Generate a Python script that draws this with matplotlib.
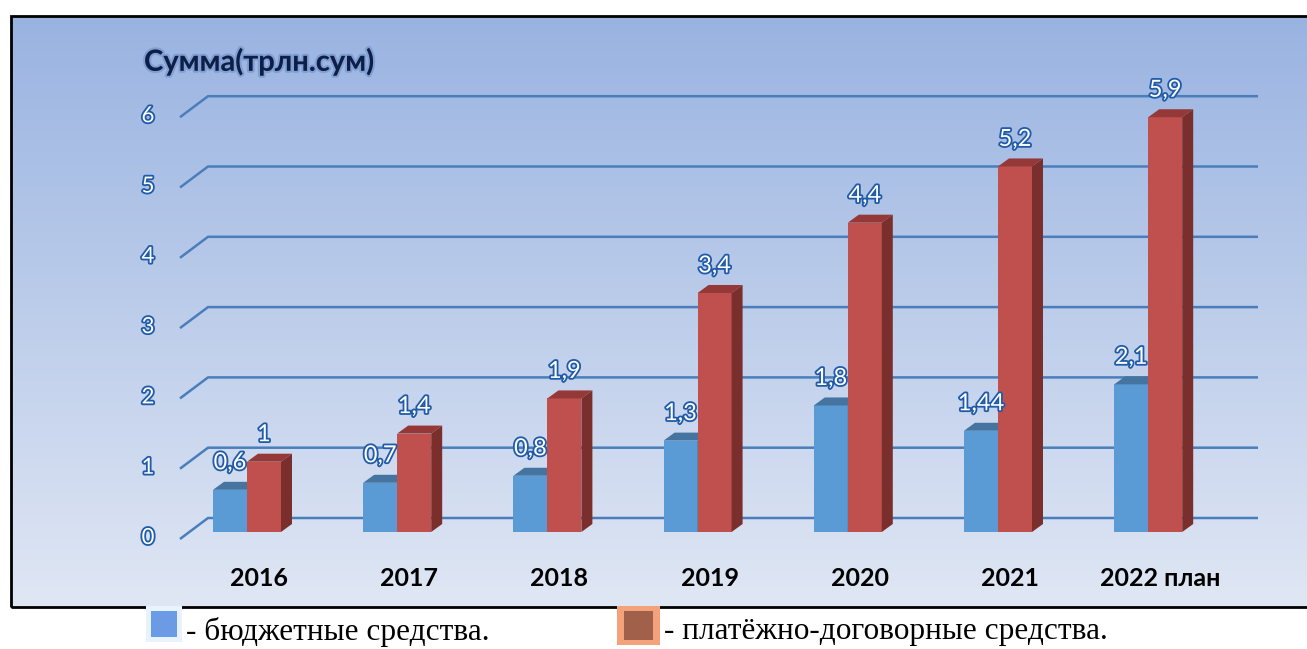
import numpy as np
import matplotlib.pyplot as plt
import matplotlib.patheffects as pe
from matplotlib.patches import Polygon, Rectangle
from matplotlib.colors import LinearSegmentedColormap

# data
years = ['2016', '2017', '2018', '2019', '2020', '2021', '2022 план']
budget = [0.6, 0.7, 0.8, 1.3, 1.8, 1.44, 2.1]
contract = [1.0, 1.4, 1.9, 3.4, 4.4, 5.2, 5.9]
budget_lbl = ['0,6', '0,7', '0,8', '1,3', '1,8', '1,44', '2,1']
contract_lbl = ['1', '1,4', '1,9', '3,4', '4,4', '5,2', '5,9']
yticks = [0, 1, 2, 3, 4, 5, 6]

W, H = 1307, 649
fig = plt.figure(figsize=(W / 100, H / 100), dpi=100)
ax = fig.add_axes([0, 0, 1, 1])

# one group = 150.2 px, one unit = 70.3 px, origin at first group / bar base
ux, uy = 150.2, 70.3
x0, y0 = 247, 532

def px(x):
    return (x - x0) / ux

def py(y):
    return (y0 - y) / uy

# background gradient inside the frame
cmap = LinearSegmentedColormap.from_list('bg', ['#99B3E1', '#E0E7F4'])
grad = np.linspace(0, 1, 256).reshape(-1, 1)
ax.imshow(grad, extent=[px(11), px(W + 5), py(607), py(16)], aspect='auto',
          cmap=cmap, zorder=0)
ax.add_patch(Rectangle((px(11), py(607)), px(W + 10) - px(11), py(16) - py(607),
                       fill=False, edgecolor='black', lw=2, zorder=1))

ax.set_xlim(px(0), px(W))
ax.set_ylim(py(H), py(0))
ax.axis('off')

# gridlines: front floor edge -> back wall
outline = [pe.withStroke(linewidth=2.6, foreground='#1F5BA8')]
for v in yticks:
    ax.plot([px(180), px(208), px(1258)], [v - 7 / uy, v + 14 / uy, v + 14 / uy],
            color='#4A7EBB', lw=1.8, zorder=2, solid_capstyle='butt')
    ax.text(px(148), v - 6 / uy, str(v), ha='center', va='center', fontsize=16,
            family='Lato', color='white', path_effects=outline, zorder=6)

# bars with a little 3d depth
w = 34 / ux
dx, dy = 11 / ux, 8 / uy
x = np.arange(len(years))

def bar3d(xc, vals, front, top, side, z):
    ax.bar(xc, vals, width=w, color=front, zorder=z, linewidth=0)
    for xi, v in zip(xc, vals):
        l, r = xi - w / 2, xi + w / 2
        ax.add_patch(Polygon([(l, v), (l + dx, v + dy), (r + dx, v + dy), (r, v)],
                             closed=True, color=top, lw=0, zorder=z))
        ax.add_patch(Polygon([(r, 0), (r + dx, dy), (r + dx, v + dy), (r, v)],
                             closed=True, color=side, lw=0, zorder=z))

bar3d(x - w / 2, budget, '#5B9BD5', '#44749F', '#3B6790', 3)
bar3d(x + w / 2, contract, '#C0504D', '#943937', '#7B2F2D', 4)

for xi, v, s in zip(x - w / 2, budget, budget_lbl):
    ax.text(xi, v + 27 / uy, s, ha='center', va='center', fontsize=17,
            family='Lato', color='white', path_effects=outline, zorder=6)
for xi, v, s in zip(x + w / 2, contract, contract_lbl):
    ax.text(xi, v + 27 / uy, s, ha='center', va='center', fontsize=17,
            family='Lato', color='white', path_effects=outline, zorder=6)

# category labels
for xi, s in zip(x, years):
    ax.text(xi + 12 / ux, py(578), s, ha='center', va='center', fontsize=18,
            family='Lato', fontweight='bold', color='black', zorder=6)

# axis title
ax.text(px(144), py(62), 'Сумма(трлн.сум)', ha='left', va='center', fontsize=21,
        family='Lato', fontweight='bold', color='#0E1F45', zorder=6,
        path_effects=[pe.withStroke(linewidth=3, foreground='#6F90CC', alpha=0.6)])

# legend under the frame
ax.add_patch(Rectangle((px(146), py(642)), 36 / ux, 36 / uy, color='#E8F3FF',
                       lw=0, zorder=5, clip_on=False))
ax.add_patch(Rectangle((px(151), py(637)), 26 / ux, 26 / uy, color='#6C9BE6',
                       lw=0, zorder=6, clip_on=False))
ax.text(px(186), py(632), '- бюджетные средства.', ha='left', va='center',
        fontsize=22.5, family='Liberation Serif', color='black')
ax.add_patch(Rectangle((px(617), py(645)), 43 / ux, 39 / uy, color='#F4A27C',
                       lw=0, zorder=5, clip_on=False))
ax.add_patch(Rectangle((px(624), py(640)), 29 / ux, 29 / uy, color='#A0604A',
                       lw=0, zorder=6, clip_on=False))
ax.text(px(664), py(632), '- платёжно-договорные средства.', ha='left',
        va='center', fontsize=22.5, family='Liberation Serif', color='black')

fig.savefig('out.png', dpi=100)
